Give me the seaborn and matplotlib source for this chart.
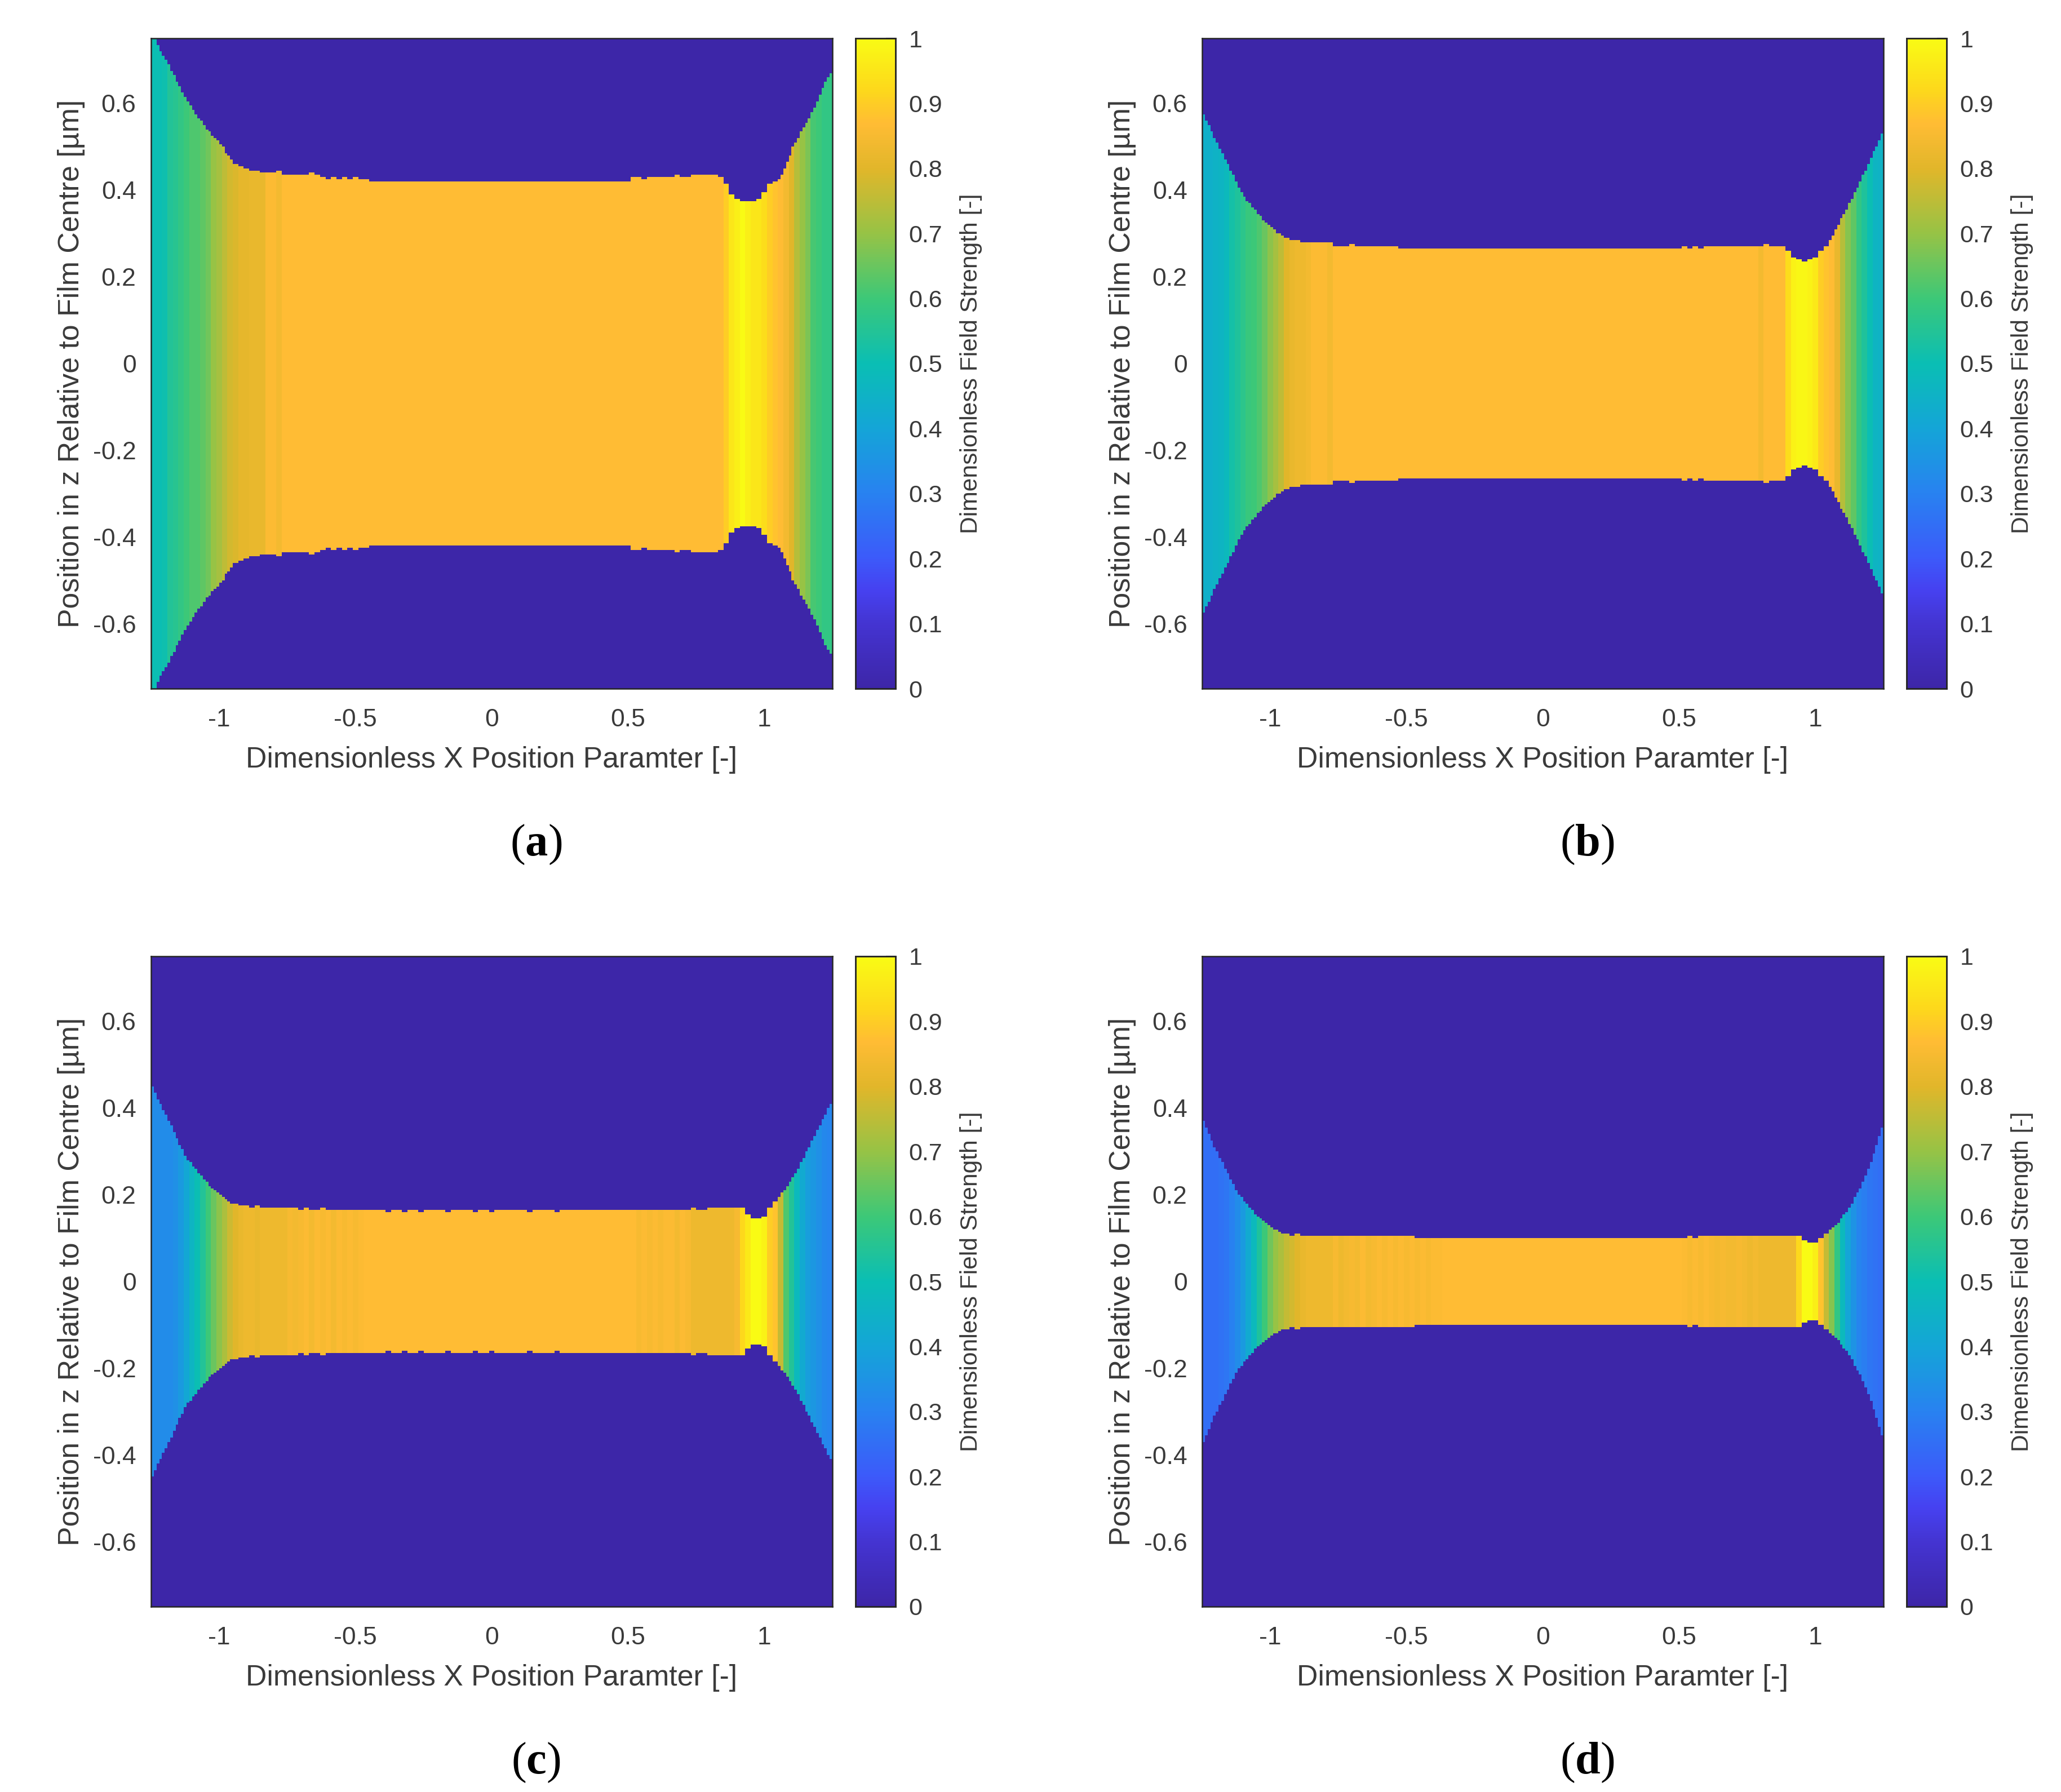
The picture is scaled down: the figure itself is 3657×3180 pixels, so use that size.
import numpy as np
import matplotlib
matplotlib.use("Agg")
import matplotlib.pyplot as plt
from matplotlib.colors import LinearSegmentedColormap
import seaborn as sns

# film half thickness: edges read every 0.01 in x, the middle (-0.95 to 1.05) every 0.02
half_a_left = [.75, .75, .735, .72, .71, .70, .69, .675, .665, .65, .64, .625, .613, .603, .594,
               .585, .575, .566, .558, .55, .542, .533, .525, .519, .513, .506, .50, .485, .478, .47]
half_a_mid = [.46, .453, .45, .447, .443,
              .44, .44, .442, .443, .436, .433, .435, .437, .436, .438, .433, .428, .424, .428, .426, .428, .426, .429, .426, .427] \
    + [.422] * 48 \
    + [.428, .428, .427, .43, .43, .43, .431, .432, .436, .432, .432, .433, .433, .433, .435, .436, .43, .415, .39, .378,
       .374, .374, .376, .38, .395, .415, .42]
half_a_right = [.425, .437, .45, .465, .482, .498, .51, .522, .534, .546, .556, .566, .578, .592, .606, .62, .634, .648, .66, .672]
# field strength per 0.02 column from x=-1.24 to x=1.24
field_a = [.50, .50, .51, .55, .56, .58, .60, .62, .62, .64, .66, .70, .72, .75, .78, .79, .81, .81, .82, .82, .82, .86, .86, .84] \
    + [.87] * 81 \
    + [.90, .95, .97, 1.0, .97, .95, .95, .93, .90, .88, .87, .84, .80, .74, .70, .67, .61, .60, .58, .58]

half_b_left = [.575, .56, .548, .535, .522, .51, .497, .485, .472, .46, .447, .433, .418, .405, .395,
               .385, .376, .368, .36, .353, .346, .339, .332, .326, .32, .314, .308, .302, .298, .293]
half_b_mid = [.288, .285, .284, .282, .28,
              .278, .279, .279, .278, .272, .272, .271, .273, .272, .27, .272, .268, .268, .27, .268, .268, .266, .266, .266, .265] \
    + [.265] * 48 \
    + [.268, .266, .268, .266, .268, .268, .27, .268, .268, .27, .268, .27, .268, .27, .27, .276, .272, .27, .268, .258,
       .245, .238, .235, .238, .245, .258, .272]
half_b_right = [.285, .296, .308, .32, .333, .345, .356, .368, .381, .394, .405, .418, .433, .447, .46, .473, .488, .502, .515, .528]
field_b = [.44, .44, .45, .46, .48, .52, .54, .57, .59, .60, .62, .65, .69, .72, .75, .80, .82, .83, .83, .84, .86, .86, .86, .84] \
    + [.87] * 78 \
    + [.84, .87, .87, .87, .87, .93, .98, .99, .99, .98, .96, .90, .88, .87, .82, .74, .68, .64, .58, .54, .50, .46, .45]

half_c_left = [.452, .437, .422, .409, .397, .384, .372, .359, .346, .331, .316, .303, .29, .28, .273,
               .265, .258, .25, .243, .235, .228, .222, .216, .211, .206, .201, .196, .191, .187, .182]
half_c_mid = [.178, .174, .173, .171, .174,
              .171, .17, .171, .169, .168, .17, .168, .167, .168, .166, .166, .168, .166, .165, .167, .165, .165, .164, .165, .164] \
    + [.163, .164, .163, .162, .163, .163, .161, .163, .164, .162, .163, .164, .163, .163, .162, .164, .163, .165, .163, .162,
       .163, .164, .162, .163, .164, .163, .163, .165, .163, .162, .164, .163, .163, .164, .162, .163, .164, .163, .165, .163,
       .164, .163, .165, .164, .163, .165, .164, .165] \
    + [.165, .165, .166, .165, .166, .166, .167, .165, .167, .166, .167, .168, .166, .167, .168, .168, .17, .169, .17, .169,
       .168, .155, .147, .145, .148, .17, .185]
half_c_right = [.195, .203, .211, .22, .23, .24, .25, .261, .274, .286, .299, .311, .324, .336, .349, .361, .374, .386, .399, .411]
field_c = [.33, .33, .33, .33, .34, .37, .41, .46, .50, .55, .60, .65, .69, .73, .77, .80, .82, .83, .83, .82, .83, .83, .83, .83] \
    + [.83, .85, .84, .85, .86, .84, .86, .85, .86, .84, .86, .85, .86, .85, .86] \
    + [.87] * 50 \
    + [.85, .86, .85, .86, .85, .86, .86, .84, .86, .85, .83, .83, .83, .83, .83, .83, .83, .83, .85, .92,
       .96, 1.0, 1.0, .98, .90, .88, .76, .62, .55, .48, .42, .38, .36, .34, .32, .31]

half_d_left = [.372, .354, .34, .326, .312, .298, .285, .273, .26, .248, .236, .223, .21, .2, .193,
               .185, .178, .17, .163, .157, .151, .145, .139, .134, .129, .125, .121, .118, .115, .111]
half_d_mid = [.108, .107, .108, .106, .107,
              .105, .107, .105, .106, .105, .104, .105, .104, .105, .104, .103, .105, .104, .103, .104, .103, .104, .103, .103, .102] \
    + [.102] * 48 \
    + [.102, .103, .102, .103, .103, .104, .103, .104, .104, .103, .105, .104, .105, .104, .105, .104, .103, .104, .104, .104,
       .104, .104, .095, .088, .092, .10, .11]
half_d_right = [.118, .124, .13, .137, .145, .153, .162, .172, .182, .193, .205, .217, .23, .243, .258, .275, .295, .315, .335, .355]
field_d = [.25, .25, .25, .26, .27, .30, .33, .37, .42, .48, .54, .60, .66, .70, .73, .76, .78, .80, .82, .83, .83, .83, .83, .83] \
    + [.85, .83, .84, .85, .84, .86, .84, .85, .86, .85, .86, .85, .86, .85, .86, .85, .86, .85, .86, .86] \
    + [.87] * 44 \
    + [.86, .85, .86, .85, .86, .85, .84, .85, .84, .84, .85, .84, .83, .84, .83, .83, .83, .83, .83] \
    + [.83, .83, .92, 1.0, 1.0, .97, .88, .76, .68, .58, .48, .40, .35, .31, .29, .27, .26, .25]

panel_names = ["a", "b", "c", "d"]
half_parts = [(half_a_left, half_a_mid, half_a_right),
              (half_b_left, half_b_mid, half_b_right),
              (half_c_left, half_c_mid, half_c_right),
              (half_d_left, half_d_mid, half_d_right)]
fields = [field_a, field_b, field_c, field_d]

x_ticks = [-1, -0.5, 0, 0.5, 1]
x_labels = ["-1", "-0.5", "0", "0.5", "1"]
z_ticks = [0.6, 0.4, 0.2, 0, -0.2, -0.4, -0.6]
z_labels = ["0.6", "0.4", "0.2", "0", "-0.2", "-0.4", "-0.6"]
cbar_ticks = [0, 0.1, 0.2, 0.3, 0.4, 0.5, 0.6, 0.7, 0.8, 0.9, 1]
cbar_labels = ["0", "0.1", "0.2", "0.3", "0.4", "0.5", "0.6", "0.7", "0.8", "0.9", "1"]

W, H = 3657, 3180
DZ = 0.005
GREY = "#3a3a3a"

sns.set_style("white")
plt.rcParams["font.family"] = ["Liberation Sans", "DejaVu Sans"]
plt.rcParams["mathtext.fontset"] = "custom"
plt.rcParams["mathtext.rm"] = "Liberation Serif"
plt.rcParams["mathtext.bf"] = "Liberation Serif:bold"

parula = LinearSegmentedColormap.from_list("parula_like", [
    (0.0, (61 / 255, 38 / 255, 168 / 255)),
    (0.1, (68 / 255, 52 / 255, 210 / 255)),
    (0.15, (70 / 255, 65 / 255, 240 / 255)),
    (0.2, (60 / 255, 90 / 255, 250 / 255)),
    (0.3, (40 / 255, 130 / 255, 240 / 255)),
    (0.4, (20 / 255, 165 / 255, 215 / 255)),
    (0.5, (10 / 255, 190 / 255, 180 / 255)),
    (0.6, (60 / 255, 200 / 255, 120 / 255)),
    (0.7, (150 / 255, 195 / 255, 70 / 255)),
    (0.8, (225 / 255, 182 / 255, 42 / 255)),
    (0.87, (255 / 255, 188 / 255, 52 / 255)),
    (0.92, (253 / 255, 215 / 255, 28 / 255)),
    (1.0, (249 / 255, 251 / 255, 20 / 255)),
])


def box(left, top, right, bottom):
    return [left / W, 1 - bottom / H, (right - left) / W, (bottom - top) / H]


z_centres = np.arange(0.75 - DZ / 2, -0.75, -DZ)
fig = plt.figure(figsize=(W / 100, H / 100), dpi=100)

lefts = [268, 2133, 268, 2133]
tops = [68, 68, 1697, 1697]
for name, parts, field, left, top in zip(panel_names, half_parts, fields, lefts, tops):
    ax = fig.add_axes(box(left, top, left + 1209, top + 1154))
    cax = fig.add_axes(box(left + 1250, top, left + 1321, top + 1154))

    half = np.concatenate([parts[0], np.repeat(parts[1], 2), parts[2]])
    field = np.repeat(field, 2)
    grid = np.where(np.abs(z_centres)[:, None] <= half[None, :], field[None, :], 0.0)
    sns.heatmap(grid, ax=ax, cbar_ax=cax, cmap=parula, vmin=0, vmax=1,
                xticklabels=False, yticklabels=False)

    ax.set_xticks([(x + 1.25) / 2.5 * grid.shape[1] for x in x_ticks])
    ax.set_xticklabels(x_labels, fontsize=32, color=GREY)
    ax.set_yticks([(0.75 - z) / DZ for z in z_ticks])
    ax.set_yticklabels(z_labels, fontsize=32, color=GREY, rotation=0)
    ax.tick_params(axis="both", direction="in", length=9, width=1.5, color="#222222",
                   top=True, right=True, bottom=True, left=True)
    ax.tick_params(axis="x", pad=25)
    ax.tick_params(axis="y", pad=19)
    for spine in ax.spines.values():
        spine.set_visible(True)
        spine.set_color("#262626")
        spine.set_linewidth(1.8)
    ax.set_xlabel("Dimensionless X Position Paramter [-]", fontsize=37.3, color=GREY)
    ax.xaxis.set_label_coords(0.5, -0.088)
    ax.set_ylabel("Position in z Relative to Film Centre [µm]", fontsize=37.4, color=GREY)
    ax.yaxis.set_label_coords(-0.097, 0.5)

    cax.yaxis.set_ticks(cbar_ticks)
    cax.set_yticklabels(cbar_labels, fontsize=31, color=GREY)
    cax.tick_params(axis="y", direction="in", length=12, width=1.5, color="#222222", pad=17, right=True)
    for spine in cax.spines.values():
        spine.set_visible(True)
        spine.set_color("#262626")
        spine.set_linewidth(1.8)
    cax.set_ylabel("Dimensionless Field Strength [-]", fontsize=30.7, color=GREY)
    cax.yaxis.set_label_position("right")
    cax.yaxis.set_label_coords(2.6, 0.5)

    fig.text((left + 683) / W, 1 - (top + 1431) / H, "($\\mathbf{%s}$)" % name,
             fontsize=58, family="Liberation Serif", color="black", ha="center", va="center")

fig.savefig("out.png", dpi=100)
